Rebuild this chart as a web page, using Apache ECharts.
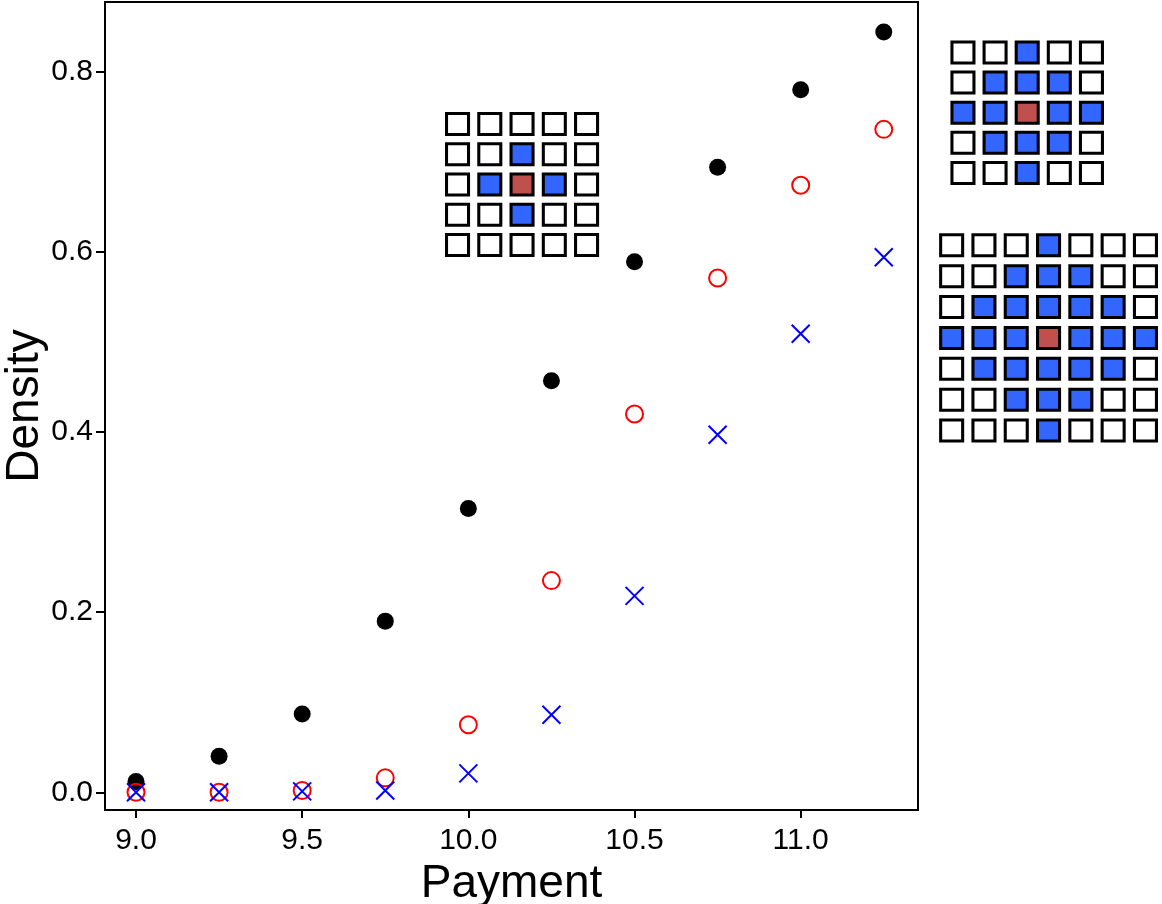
<!DOCTYPE html>
<html>
<head>
<meta charset="utf-8">
<style>
  html, body { margin: 0; padding: 0; background: #fff; }
  #chart { width: 1162px; height: 904px; }
</style>
<script src="https://cdn.jsdelivr.net/npm/echarts@6/dist/echarts.min.js"></script>
</head>
<body>
<div id="chart"></div>
<script>
// 数据
var payment = [9.0, 9.25, 9.5, 9.75, 10.0, 10.25, 10.5, 10.75, 11.0, 11.25];
var densityR0 = [0.012, 0.040, 0.087, 0.190, 0.315, 0.457, 0.589, 0.694, 0.780, 0.844];
var densityR1 = [0.000, 0.000, 0.002, 0.016, 0.075, 0.235, 0.420, 0.571, 0.674, 0.736];
var densityR2 = [0.000, 0.000, 0.001, 0.002, 0.021, 0.086, 0.218, 0.397, 0.509, 0.594];
var xTicks = [9.0, 9.5, 10.0, 10.5, 11.0];
var yTicks = [0.0, 0.2, 0.4, 0.6, 0.8];

// 邻域示意格子: 0 空, 1 邻居, 2 中心
var hood1 = ["00000", "00100", "01210", "00100", "00000"];
var hood2 = ["00100", "01110", "11211", "01110", "00100"];
var hood3 = ["0001000", "0011100", "0111110", "1112111", "0111110", "0011100", "0001000"];

var font = "'Liberation Sans', Arial, sans-serif";
var cellColor = ["#ffffff", "#3366ff", "#c0504d"];

function pairs(ys) {
  return payment.map(function (x, i) { return [x, ys[i]]; });
}

function cells(rows) {
  var out = [];
  rows.forEach(function (row, r) {
    row.split("").forEach(function (c, k) {
      out.push({ value: [k, r], itemStyle: { color: cellColor[+c] } });
    });
  });
  return out;
}

function idx(n) {
  var a = [];
  for (var i = 0; i < n; i++) a.push(i);
  return a;
}

var myChart = echarts.init(document.getElementById("chart"));

// 小格子图的位置
var glyphGrids = [
  { left: 441.4, top: 108.9, width: 161.3, height: 151.2, rows: hood1 },
  { left: 946.9, top: 37.4, width: 160.6, height: 150.6, rows: hood2 },
  { left: 935.5, top: 229.9, width: 226.1, height: 216.1, rows: hood3 }
];

var grids = [{
  left: 105, right: 244, top: 2, bottom: 94,
  outerBoundsMode: "none", containLabel: false,
  show: true, borderColor: "#000", borderWidth: 2
}];
var xAxes = [{
  type: "value",
  min: 8.9067,
  max: 11.353,
  name: "Payment",
  nameLocation: "middle",
  nameGap: 46,
  nameTextStyle: { fontFamily: font, fontSize: 46, color: "#000" },
  axisLine: { show: true, onZero: false, lineStyle: { color: "#000", width: 2 } },
  axisTick: { show: true, length: 8, customValues: xTicks, lineStyle: { color: "#000", width: 2 } },
  axisLabel: {
    customValues: xTicks, margin: 16, fontFamily: font, fontSize: 30, color: "#000",
    formatter: function (v) { return v.toFixed(1); }
  },
  splitLine: { show: false }
}];
var yAxes = [{
  type: "value",
  min: -0.0197,
  max: 0.8774,
  name: "Density",
  nameLocation: "middle",
  nameGap: 57,
  nameMoveOverlap: false,
  nameTextStyle: { fontFamily: font, fontSize: 46, color: "#000" },
  axisLine: { show: true, onZero: false, lineStyle: { color: "#000", width: 2 } },
  axisTick: { show: true, length: 9, customValues: yTicks, lineStyle: { color: "#000", width: 2 } },
  axisLabel: {
    customValues: yTicks, margin: 12, fontFamily: font, fontSize: 30, color: "#000",
    formatter: function (v) { return v.toFixed(1); }
  },
  splitLine: { show: false }
}];

var series = [
  {
    name: "r0", type: "scatter", xAxisIndex: 0, yAxisIndex: 0,
    symbol: "circle", symbolSize: 17,
    itemStyle: { color: "#000", opacity: 1 },
    data: pairs(densityR0)
  },
  {
    name: "r1", type: "scatter", xAxisIndex: 0, yAxisIndex: 0,
    symbol: "circle", symbolSize: 17,
    itemStyle: { color: "rgba(0,0,0,0)", borderColor: "#ff0000", borderWidth: 2, opacity: 1 },
    data: pairs(densityR1)
  },
  {
    name: "r2", type: "scatter", xAxisIndex: 0, yAxisIndex: 0,
    symbol: "path://M0,0L20,20M20,0L0,20", symbolSize: 18,
    itemStyle: { color: "rgba(0,0,0,0)", borderColor: "#0000ff", borderWidth: 2, opacity: 1 },
    data: pairs(densityR2)
  }
];

glyphGrids.forEach(function (g, i) {
  var n = g.rows[0].length;
  grids.push({ left: g.left, top: g.top, width: g.width, height: g.height, outerBoundsMode: "none" });
  xAxes.push({ type: "category", gridIndex: i + 1, data: idx(n), show: false });
  yAxes.push({ type: "category", gridIndex: i + 1, data: idx(g.rows.length), inverse: true, show: false });
  series.push({
    type: "scatter", xAxisIndex: i + 1, yAxisIndex: i + 1,
    symbol: "rect", symbolSize: [22, 21],
    itemStyle: { borderColor: "#000", borderWidth: 3, opacity: 1 },
    data: cells(g.rows)
  });
});

var option = {
  animation: false,
  backgroundColor: "#fff",
  grid: grids,
  xAxis: xAxes,
  yAxis: yAxes,
  series: series
};
myChart.setOption(option);
window.addEventListener("resize", function () {
  myChart.resize();
});
</script>
</body>
</html>
